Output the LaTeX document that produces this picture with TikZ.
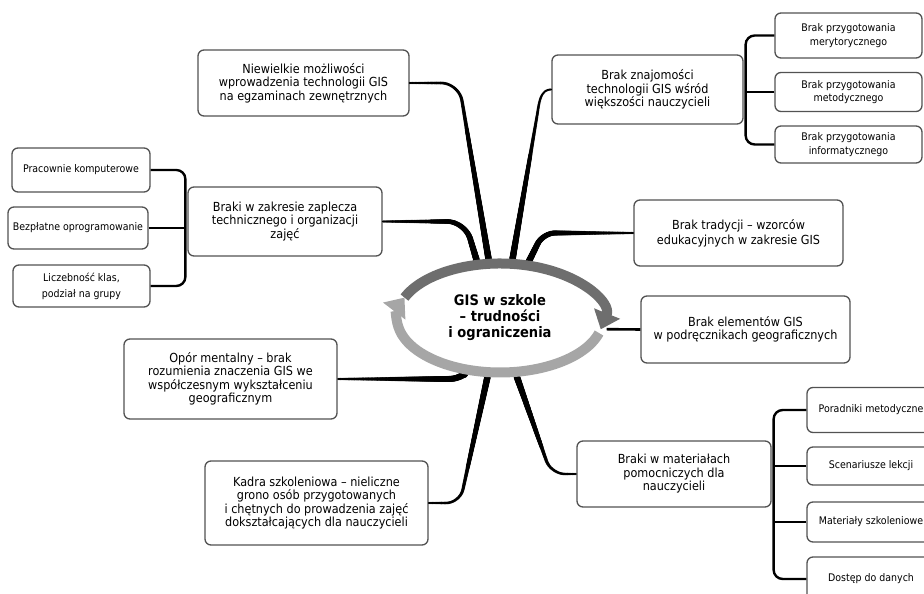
\documentclass[tikz,border=0pt]{standalone}
\usepackage{fontspec}
\setmainfont{DejaVu Sans}[FakeStretch=0.9]
\usetikzlibrary{arrows.meta,shapes.geometric,decorations.markings,calc}

\colorlet{ringdark}{black!57}
\colorlet{ringlight}{black!35}
\colorlet{boxline}{black!68}

\tikzset{
  topic/.style={draw=boxline, line width=1.3pt, rounded corners=6pt, align=center, inner sep=2pt,
    font=\fontsize{12.5}{13.5}\selectfont},
  detail/.style={topic, font=\fontsize{10.5}{13.5}\selectfont},
  branch/.style={line width=2.4pt, rounded corners=9pt},
  taper/.style={decorate, decoration={markings, mark=between positions 0 and 1 step 0.7pt with {
      \pgfmathsetmacro\tw{1.1+2.2*(1-\pgfkeysvalueof{/pgf/decoration/mark info/distance from start}/\pgfdecoratedpathlength)}
      \fill (0,0) circle (\tw pt);}}},
}

\begin{document}
\begin{tikzpicture}[x=1pt, y=1pt]
    \useasboundingbox (0,0) rectangle (924,594);
    \clip (0,0) rectangle (924,594);

    % centre
    \node[ellipse, minimum width=217pt, minimum height=119pt, inner sep=0pt, outer sep=0pt, align=center,
      font=\bfseries\fontsize{14.5}{16}\selectfont] (gis) at (500,276) {GIS w szkole\\– trudności\\i ograniczenia};

    % left side
    \node[topic, minimum width=211pt, minimum height=66pt] (nie) at (303.5,511) {Niewielkie możliwości\\wprowadzenia technologii GIS\\na egzaminach zewnętrznych};
    \node[topic, minimum width=194pt, minimum height=69pt] (zap) at (285,372.5) {Braki w zakresie zaplecza\\technicznego i organizacji\\zajęć};
    \node[detail, minimum width=138pt, minimum height=44pt] (pk) at (81,424) {Pracownie komputerowe};
    \node[detail, minimum width=140pt, minimum height=42pt] (bo) at (78,366) {Bezpłatne oprogramowanie};
    \node[detail, minimum width=137pt, minimum height=42pt, font=\fontsize{10.5}{16}\selectfont] (lk) at (81.5,308) {Liczebność klas,\\podział na grupy};
    \node[topic, minimum width=213pt, minimum height=80pt] (opor) at (230.5,215) {Opór mentalny – brak\\rozumienia znaczenia GIS we\\współczesnym wykształceniu\\geograficznym};
    \node[topic, minimum width=223pt, minimum height=84pt] (kadra) at (316.5,91) {Kadra szkoleniowa – nieliczne\\grono osób przygotowanych\\i chętnych do prowadzenia zajęć\\dokształcających dla nauczycieli};

    % right side
    \node[topic, minimum width=191pt, minimum height=69pt] (znaj) at (647.5,504.5) {Brak znajomości\\technologii GIS wśród\\większości nauczycieli};
    \node[detail, minimum width=147pt, minimum height=45pt] (mer) at (848.5,558.5) {Brak przygotowania\\merytorycznego};
    \node[detail, minimum width=147pt, minimum height=39pt] (met) at (848.5,502) {Brak przygotowania\\metodycznego};
    \node[detail, minimum width=147pt, minimum height=37pt] (inf) at (848.5,449.5) {Brak przygotowania\\informatycznego};
    \node[topic, minimum width=209pt, minimum height=66pt, font=\fontsize{12.5}{15}\selectfont] (trad) at (738.5,361) {Brak tradycji – wzorców\\edukacyjnych w zakresie GIS};
    \node[topic, minimum width=209pt, minimum height=67pt] (podr) at (745.5,264.5) {Brak elementów GIS\\w podręcznikach geograficznych};
    \node[topic, minimum width=194pt, minimum height=66pt] (mat) at (674,120) {Braki w materiałach\\pomocniczych dla\\nauczycieli};
    \node[detail, minimum width=128pt, minimum height=45pt] (por) at (871,184) {Poradniki metodyczne};
    \node[detail, minimum width=128pt, minimum height=38pt] (sc) at (871,128) {Scenariusze lekcji};
    \node[detail, minimum width=128pt, minimum height=40pt] (ms) at (871,72) {Materiały szkoleniowe};
    \node[detail, minimum width=128pt, minimum height=44pt] (dd) at (871,15) {Dostęp do danych};

    % brackets to the details
    \coordinate (lbar) at ($(zap.west |- bo.east)+(-2,0)$);
    \draw[branch] (pk.east) -| (lbar) |- (lk.east); \draw[branch] (bo.east) -- (lbar);
    \coordinate (rbar) at ($(znaj.east |- met.west)+(2,0)$);
    \draw[branch] (mer.west) -| (rbar) |- (inf.west); \draw[branch] (met.west) -- (rbar);
    \coordinate (bbar) at ($(mat.east)+(2,0)$);
    \draw[branch] (por.west) -| (bbar) |- (dd.west);
    \foreach \s in {sc,ms} \draw[branch] (\s.west) -- (\s.west -| bbar);

    % main connectors, thick at the centre
    \path[taper, rounded corners=18pt] (gis.101) -- (459,511) -- (nie.east);
    \path[taper, rounded corners=18pt] (gis.112) -- (465,372.5) -- (zap.east);
    \path[taper] (gis.78) -- (537,478) to[out=80,in=180] (znaj.west);
    \path[taper, rounded corners=12pt] (gis.63) -- (543,361) -- (trad.west);
    \draw[line width=2.6pt] (gis.-6) -- (podr.west);
    \path[taper, rounded corners=14pt] (gis.286) -- (551,120) -- (mat.west);
    \path[taper, rounded corners=14pt] (gis.258) -- (460,91) -- (kadra.east);
    \path[taper] (gis.238) .. controls (455,215) .. (440,215) -- (opor.east);

    % ring of arrows
    \draw[ringlight, line width=10pt, -{Triangle[width=27pt,length=17pt]}] (gis.center) ++(-16:103 and 54.5)
      arc[start angle=-16, end angle=-202, x radius=103, y radius=54.5];
    \draw[ringdark, line width=10pt, -{Triangle[width=27pt,length=17pt]}] (gis.center) ++(158:103 and 54.5)
      arc[start angle=158, end angle=-12, x radius=103, y radius=54.5];
\end{tikzpicture}
\end{document}
